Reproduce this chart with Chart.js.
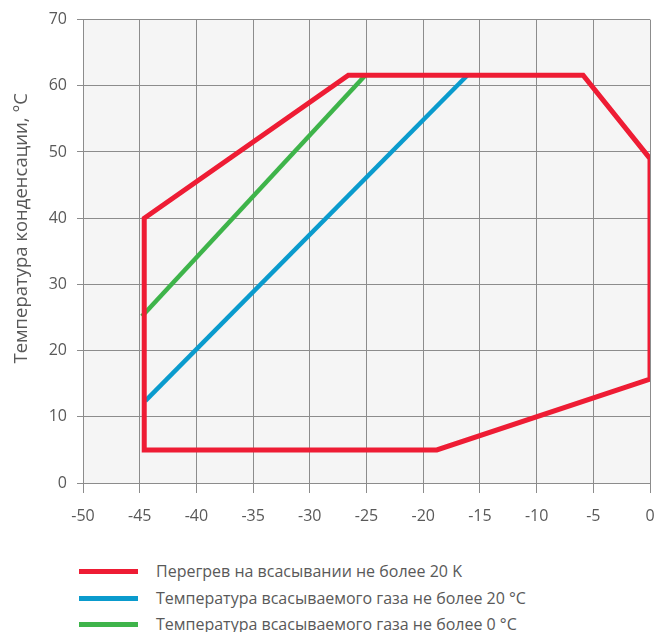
<!DOCTYPE html>
<html>
<head>
<meta charset="utf-8">
<script src="https://cdn.jsdelivr.net/npm/chart.js@4.4.1/dist/chart.umd.min.js"></script>
<style>
  html, body { margin: 0; padding: 0; background: #ffffff; }
  #wrap { position: relative; width: 656px; height: 540px; }
  #legend { position: absolute; left: 0; top: 540px; width: 656px; font-family: "Open Sans", sans-serif; font-size: 16px; color: #595959; }
  .item { position: absolute; left: 79px; height: 20px; display: flex; align-items: center; white-space: nowrap; }
  .swatch { width: 59px; height: 5px; margin-right: 18px; }
</style>
</head>
<body>
<div id="wrap"><canvas id="c" width="656" height="540"></canvas></div>
<div id="legend"></div>
<script>
const seriesNames = [
  "Перегрев на всасывании не более 20 K",
  "Температура всасываемого газа не более 20 °C",
  "Температура всасываемого газа не более 0 °C"
];
const seriesColors = ["#ee1c34", "#0a9bcd", "#3eb44a"];
// Red envelope (superheat ≤ 20 K)
const redX = [-44.6, -44.6, -26.6, -5.9, 0, 0, -18.8, -44.6];
const redY = [5, 40, 61.6, 61.6, 49, 15.7, 5, 5];
// Blue line (suction gas ≤ 20 °C)
const blueX = [-44.5, -16.1];
const blueY = [12.4, 61.6];
// Green line (suction gas ≤ 0 °C)
const greenX = [-44.8, -25.1];
const greenY = [25.2, 61.6];
const xTicks = [-50, -45, -40, -35, -30, -25, -20, -15, -10, -5, 0];
const yTicks = [0, 10, 20, 30, 40, 50, 60, 70];
const yTitle = "Температура конденсации, °C";

const pts = (xs, ys) => xs.map((x, i) => ({ x: x, y: ys[i] }));

const bgPlugin = {
  id: 'bg',
  beforeDraw(chart) {
    const a = chart.chartArea, ctx = chart.ctx;
    ctx.save();
    ctx.fillStyle = '#f5f5f5';
    ctx.fillRect(a.left, a.top, a.right - a.left, a.bottom - a.top);
    ctx.restore();
  }
};

// y-axis title, drawn rotated a little above the plot centre as in the source
const yTitlePlugin = {
  id: 'ytitle',
  afterDraw(chart) {
    const ctx = chart.ctx, a = chart.chartArea;
    ctx.save();
    ctx.translate(27, (a.top + a.bottom) / 2 - 23);
    ctx.rotate(-Math.PI / 2);
    ctx.font = '18.5px "Open Sans"';
    ctx.fillStyle = '#595959';
    ctx.textAlign = 'center';
    ctx.textBaseline = 'alphabetic';
    ctx.fillText(yTitle, 0, 0);
    ctx.restore();
  }
};

const lineW = [5, 4.5, 4.5];
const data = [pts(redX, redY), pts(blueX, blueY), pts(greenX, greenY)];

new Chart(document.getElementById('c'), {
  type: 'scatter',
  data: {
    datasets: data.map((d, i) => ({
      label: seriesNames[i],
      data: d,
      showLine: true,
      borderColor: seriesColors[i],
      backgroundColor: seriesColors[i],
      borderWidth: lineW[i],
      pointRadius: 0,
      tension: 0,
      borderJoinStyle: 'miter',
      borderCapStyle: i === 0 ? 'square' : 'butt',
      fill: false
    }))
  },
  options: {
    responsive: false,
    animation: false,
    devicePixelRatio: 1,
    layout: { padding: { top: 16, right: 0, left: 0, bottom: 0 } },
    plugins: { legend: { display: false }, tooltip: { enabled: false } },
    scales: {
      x: {
        type: 'linear', min: -50, max: 0,
        afterBuildTicks(s) { s.ticks = xTicks.map(v => ({ value: v })); },
        afterFit(s) { s.height = 57; s.paddingRight = 6; },
        grid: { color: '#8c8c8c', lineWidth: 1, tickLength: 10, drawTicks: true },
        border: { color: '#8c8c8c' },
        ticks: { color: '#595959', font: { family: 'Open Sans', size: 16 }, padding: 14, maxRotation: 0 }
      },
      y: {
        type: 'linear', min: 0, max: 70,
        afterBuildTicks(s) { s.ticks = yTicks.map(v => ({ value: v })); },
        afterFit(s) { s.width = 83; },
        grid: { color: '#8c8c8c', lineWidth: 1, tickLength: 6, drawTicks: true },
        border: { color: '#8c8c8c' },
        ticks: { color: '#595959', font: { family: 'Open Sans', size: 16 }, padding: 10 },
        title: { display: false, text: yTitle }
      }
    }
  },
  plugins: [bgPlugin, yTitlePlugin]
});

const leg = document.getElementById('legend');
const rowTops = [31, 58, 84];
seriesNames.forEach((n, i) => {
  const it = document.createElement('div');
  it.className = 'item';
  it.style.top = (rowTops[i] - 10) + 'px';
  const sw = document.createElement('span');
  sw.className = 'swatch';
  sw.style.background = seriesColors[i];
  const tx = document.createElement('span');
  tx.textContent = n;
  it.appendChild(sw); it.appendChild(tx);
  leg.appendChild(it);
});
</script>
</body>
</html>
